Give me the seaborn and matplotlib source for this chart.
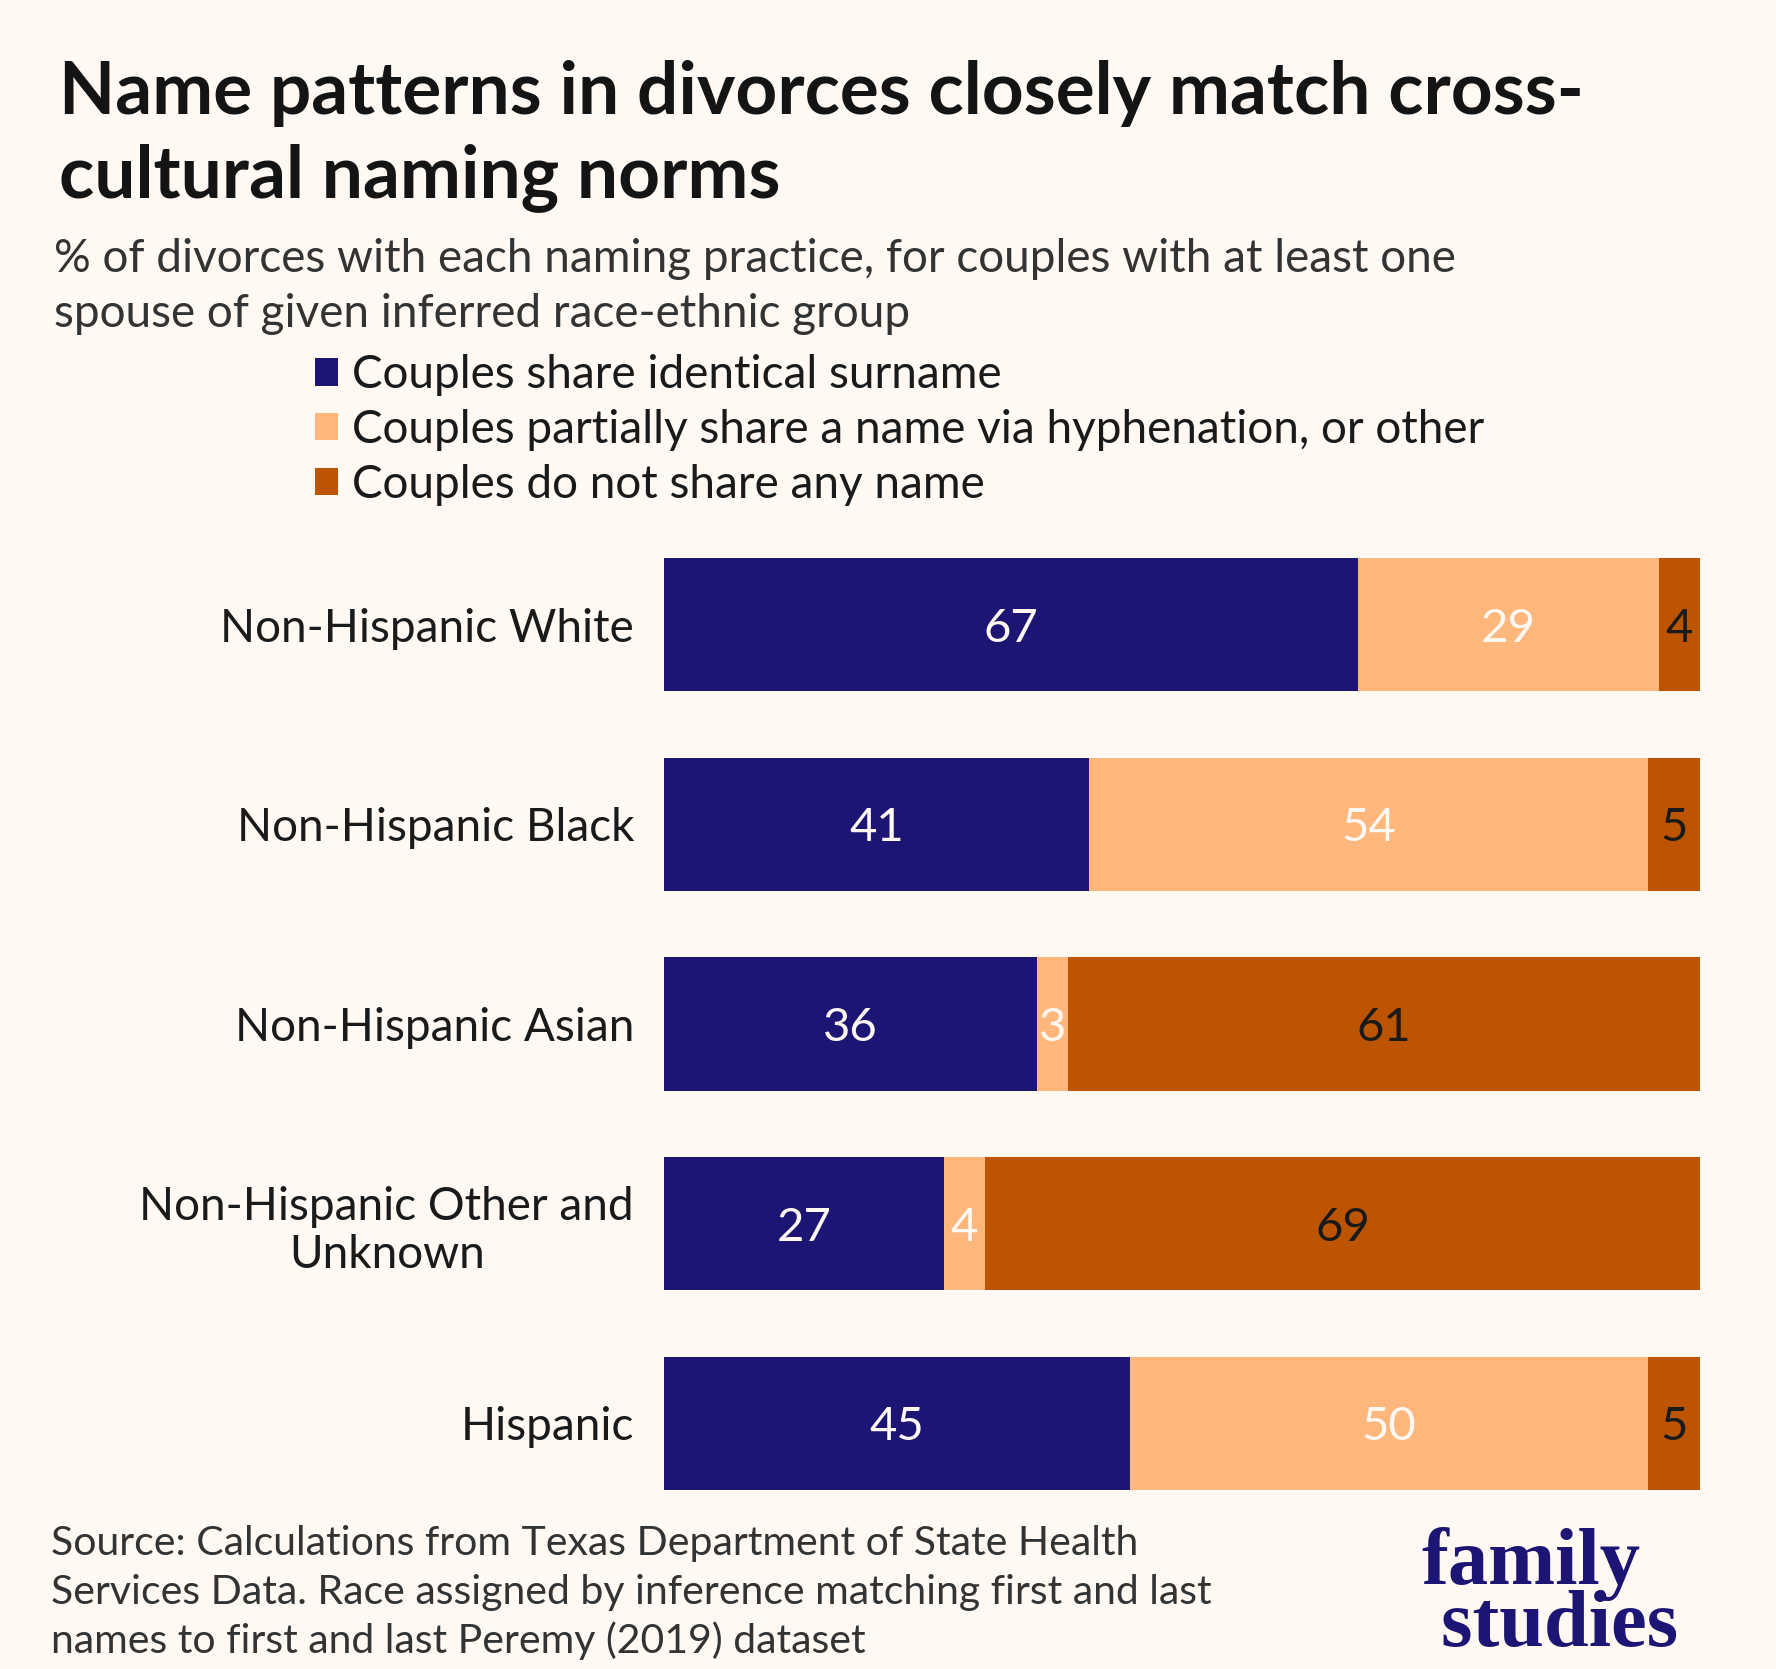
import numpy as np
import pandas as pd
import matplotlib
matplotlib.use("Agg")
import matplotlib.pyplot as plt
from matplotlib.patches import Patch
import seaborn as sns

# ------------------- Données -------------------
groups = ["Non-Hispanic White", "Non-Hispanic Black", "Non-Hispanic Asian",
          "Non-Hispanic Other and\nUnknown", "Hispanic"]
identical = [67, 41, 36, 27, 45]
partial = [29, 54, 3, 4, 50]
no_share = [4, 5, 61, 69, 5]

series_names = ["Couples share identical surname",
                "Couples partially share a name via hyphenation, or other",
                "Couples do not share any name"]
colors = ["#1c1574", "#ffb77c", "#bd5500"]
label_colors = ["#fff8f3", "#fff8f3", "#1a1a1a"]

title_lines = ["Name patterns in divorces closely match cross-",
               "cultural naming norms"]
subtitle_lines = ["% of divorces with each naming practice, for couples with at least one",
                  "spouse of given inferred race-ethnic group"]
source_lines = ["Source: Calculations from Texas Department of State Health",
                "Services Data. Race assigned by inference matching first and last",
                "names to first and last Peremy (2019) dataset"]
logo_text = "family\n studies"

BG = "#fff8f3"
W, H = 1776, 1669

# ------------------- Style -------------------
sns.set_theme(style="white", rc={"figure.facecolor": BG, "axes.facecolor": BG})
plt.rcParams["font.family"] = ["Lato", "DejaVu Sans"]

df = pd.DataFrame({"group": groups, "identical": identical,
                   "partial": partial, "no_share": no_share})
df["c1"] = df["identical"]
df["c2"] = df["identical"] + df["partial"]
df["c3"] = df["c2"] + df["no_share"]

fig = plt.figure(figsize=(W / 100, H / 100), dpi=100)
ax = fig.add_axes([664 / W, 1 - 1523 / H, (1700 - 664) / W, (1523 - 525) / H])

# barres empilées : on dessine les cumuls du plus long au plus court
for col, c in zip(["c3", "c2", "c1"], colors[::-1]):
    sns.barplot(data=df, x=col, y="group", color=c, width=0.667,
                orient="h", ax=ax, saturation=1, linewidth=0)

ax.set_xlim(0, 100)
ax.set_ylim(len(groups) - 0.5, -0.5)
ax.set_xlabel("")
ax.set_ylabel("")
ax.set_xticks([])
sns.despine(ax=ax, left=True, bottom=True)
ax.tick_params(axis="y", length=0, pad=21.6, labelsize=33, labelcolor="#1a1a1a")
for lbl in ax.get_yticklabels():
    lbl.set_multialignment("center")

# valeurs dans les barres
for i, row in df.iterrows():
    lefts = [0, row["c1"], row["c2"]]
    vals = [row["identical"], row["partial"], row["no_share"]]
    for left, v, lc in zip(lefts, vals, label_colors):
        ax.text(left + v / 2, i + 0.085, f"{v:g}", ha="center", va="baseline",
                fontsize=34, color=lc)

# ------------------- Textes -------------------
for k, line in enumerate(title_lines):
    fig.text(59 / W, 1 - (114 + 83 * k) / H, line, fontsize=52.5,
             fontweight="bold", color="#141414", va="baseline")
for k, line in enumerate(subtitle_lines):
    fig.text(54 / W, 1 - (272 + 55 * k) / H, line, fontsize=33,
             color="#333333", va="baseline")
for k, line in enumerate(source_lines):
    fig.text(51 / W, 1 - (1555 + 49 * k) / H, line, fontsize=29.5,
             color="#333333", va="baseline")

handles = [Patch(facecolor=c, edgecolor="none") for c in colors]
fig.legend(handles, series_names, loc="upper left",
           bbox_to_anchor=(315 / W, 1 - 354 / H), frameon=False, fontsize=33,
           handlelength=0.5, handleheight=0.55, handletextpad=0.3,
           labelspacing=0.28, borderpad=0, borderaxespad=0,
           labelcolor="#1a1a1a")

# logo (ancré sur la ligne de base de la dernière ligne)
fig.text(1421 / W, 1 - 1646 / H, logo_text, fontsize=58, fontweight="bold",
         family="Liberation Serif", color="#1c1574", va="baseline",
         linespacing=0.80)

fig.savefig("out.png", dpi=100, facecolor=BG)
